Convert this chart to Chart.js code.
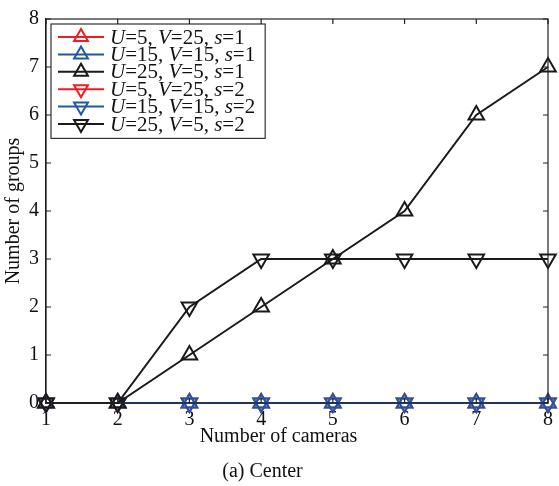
<!DOCTYPE html>
<html>
<head>
<meta charset="utf-8">
<script src="https://cdn.jsdelivr.net/npm/chart.js@4.4.0/dist/chart.umd.min.js"></script>
<style>
  html, body { margin: 0; padding: 0; background: #fff; }
</style>
</head>
<body>
<canvas id="chart" width="559" height="486"></canvas>
<script>
// data
const cameras = [1, 2, 3, 4, 5, 6, 7, 8];
const yTickValues = [0, 1, 2, 3, 4, 5, 6, 7, 8];

const groupsU5s1 = [0, 0, 0, 0, 0, 0, 0, 0];
const groupsU15s1 = [0, 0, 0, 0, 0, 0, 0, 0];
const groupsU25s1 = [0, 0, 1, 2, 3, 4, 6, 7];
const groupsU5s2 = [0, 0, 0, 0, 0, 0, 0, 0];
const groupsU15s2 = [0, 0, 0, 0, 0, 0, 0, 0];
const groupsU25s2 = [0, 0, 2, 3, 3, 3, 3, 3];

const seriesU = [5, 15, 25, 5, 15, 25];
const seriesV = [25, 15, 5, 25, 15, 5];
const seriesS = [1, 1, 1, 2, 2, 2];

const xTitle = "Number of cameras";
const yTitle = "Number of groups";
const caption = "(a) Center";

const RED = "#ec1c24";
const BLUE = "#1f57aa";
const BLACK = "#1a1a1a";
const FONT = "'Liberation Serif', 'Times New Roman', serif";

function makeSet(values, color, s, order) {
  return {
    data: values.map((v, i) => ({ x: cameras[i], y: v })),
    borderColor: color,
    backgroundColor: "rgba(0,0,0,0)",
    borderWidth: 2,
    pointStyle: "triangle",
    pointRotation: s === 1 ? 0 : 180,
    pointRadius: 9,
    pointBorderWidth: 2,
    pointBorderColor: color,
    pointBackgroundColor: "rgba(0,0,0,0)",
    tension: 0,
    clip: false,
    order: order,
  };
}

const datasets = [
  makeSet(groupsU5s1, RED, 1, 2),
  makeSet(groupsU15s1, BLUE, 1, 1),
  makeSet(groupsU25s1, BLACK, 1, 0),
  makeSet(groupsU5s2, RED, 2, 2),
  makeSet(groupsU15s2, BLUE, 2, 1),
  makeSet(groupsU25s2, BLACK, 2, 0),
];

// box round the plot with inward ticks, plus x title and caption
const boxPlugin = {
  id: "box",
  afterDraw(chart) {
    const { ctx, chartArea: a, scales } = chart;
    ctx.save();
    ctx.strokeStyle = "#222";
    ctx.lineWidth = 1.2;
    ctx.strokeRect(a.left, a.top, a.right - a.left, a.bottom - a.top);
    ctx.beginPath();
    scales.x.ticks.forEach((t) => {
      const px = scales.x.getPixelForValue(t.value);
      ctx.moveTo(px, a.bottom); ctx.lineTo(px, a.bottom - 5);
      ctx.moveTo(px, a.top); ctx.lineTo(px, a.top + 5);
    });
    scales.y.ticks.forEach((t) => {
      const py = scales.y.getPixelForValue(t.value);
      ctx.moveTo(a.left, py); ctx.lineTo(a.left + 5, py);
      ctx.moveTo(a.right, py); ctx.lineTo(a.right - 5, py);
    });
    ctx.stroke();

    ctx.fillStyle = "#111";
    ctx.font = "20px " + FONT;
    ctx.textAlign = "center";
    ctx.textBaseline = "middle";
    ctx.fillText(xTitle, chart.width / 2 - 1, a.bottom + 34);
    ctx.fillText(caption, chart.width / 2 - 17, a.bottom + 69);
    ctx.restore();
  },
};

// matlab-like legend with italic U, V, s
const legendPlugin = {
  id: "matLegend",
  afterDatasetsDraw(chart) {
    const { ctx, chartArea: a } = chart;
    const left = a.left + 5;
    const top = a.top + 5;
    const rowH = 17.4;
    const size = 21;
    const parts = (i) => [
      ["U", true], ["=" + seriesU[i] + ", ", false],
      ["V", true], ["=" + seriesV[i] + ", ", false],
      ["s", true], ["=" + seriesS[i], false],
    ];
    let maxW = 0;
    datasets.forEach((d, i) => {
      let w = 0;
      parts(i).forEach(([t, it]) => {
        ctx.font = (it ? "italic " : "") + size + "px " + FONT;
        w += ctx.measureText(t).width;
      });
      maxW = Math.max(maxW, w);
    });
    const textX = left + 59;
    const width = textX - left + maxW + 10;
    const height = rowH * datasets.length + 10;
    ctx.save();
    ctx.fillStyle = "#fff";
    ctx.fillRect(left, top, width, height);
    ctx.strokeStyle = "#333";
    ctx.lineWidth = 1.2;
    ctx.strokeRect(left, top, width, height);
    datasets.forEach((d, i) => {
      const cy = top + 13 + i * rowH;
      ctx.strokeStyle = d.borderColor;
      ctx.lineWidth = d.borderWidth;
      ctx.beginPath();
      ctx.moveTo(left + 7, cy);
      ctx.lineTo(left + 53, cy);
      ctx.stroke();
      ctx.fillStyle = "rgba(0,0,0,0)";
      Chart.helpers.drawPoint(ctx, {
        pointStyle: "triangle",
        rotation: d.pointRotation,
        radius: 8,
        borderWidth: d.pointBorderWidth,
      }, left + 30, cy);
      ctx.fillStyle = "#111";
      ctx.textBaseline = "middle";
      let x = textX;
      parts(i).forEach(([t, it]) => {
        ctx.font = (it ? "italic " : "") + size + "px " + FONT;
        ctx.fillText(t, x, cy + 1);
        x += ctx.measureText(t).width;
      });
    });
    ctx.restore();
  },
};

new Chart(document.getElementById("chart"), {
  type: "line",
  data: { datasets },
  options: {
    responsive: false,
    animation: false,
    devicePixelRatio: 1,
    layout: { padding: { left: 0, right: 10, top: 15, bottom: 0 } },
    plugins: {
      legend: { display: false },
      tooltip: { enabled: false },
    },
    scales: {
      x: {
        type: "linear",
        min: 1,
        max: 8,
        afterBuildTicks: (s) => { s.ticks = cameras.map((v) => ({ value: v })); },
        afterFit: (s) => { s.height = 83; },
        grid: { display: false, drawTicks: false },
        border: { display: true, color: "#222", width: 1.2 },
        ticks: { color: "#111", padding: 5, font: { family: FONT, size: 20 } },
      },
      y: {
        type: "linear",
        min: 0,
        max: 8,
        afterBuildTicks: (s) => { s.ticks = yTickValues.map((v) => ({ value: v })); },
        afterFit: (s) => { s.width = 46; },
        grid: { display: false, drawTicks: false },
        border: { display: true, color: "#222", width: 1.2 },
        ticks: { color: "#111", padding: 7, font: { family: FONT, size: 20 } },
        title: {
          display: true,
          text: yTitle,
          color: "#111",
          font: { family: FONT, size: 20 },
          padding: { top: 2, bottom: 0 },
        },
      },
    },
  },
  plugins: [boxPlugin, legendPlugin],
});
</script>
</body>
</html>
